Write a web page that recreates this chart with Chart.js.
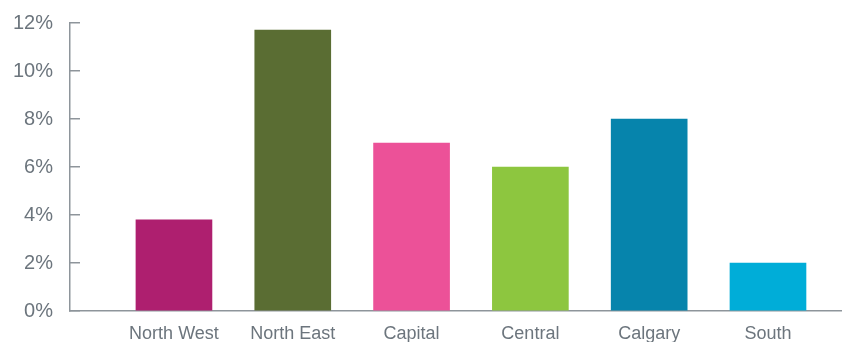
<!DOCTYPE html>
<html>
<head>
<meta charset="utf-8">
<script src="https://cdn.jsdelivr.net/npm/chart.js@4/dist/chart.umd.min.js"></script>
<style>
  html, body { margin: 0; padding: 0; background: #fff; }
  #wrap { width: 842px; height: 342px; position: relative; }
</style>
</head>
<body>
<div id="wrap"><canvas id="regionChart"></canvas></div>
<script>
  const categories = ['North West', 'North East', 'Capital', 'Central', 'Calgary', 'South'];
  const values = [3.8, 11.7, 7.0, 6.0, 8.0, 2.0];
  const barColors = ['#ae1f6f', '#5a6d33', '#ec5198', '#8dc63f', '#0684ac', '#00add8'];
  const yTicks = [0, 2, 4, 6, 8, 10, 12];

  const axisGrey = '#8e959b';
  const labelGrey = '#6c757d';

  const regionChart = new Chart(document.getElementById('regionChart'), {
    type: 'bar',
    data: {
      datasets: [{
        data: categories.map((c, i) => ({ x: i, y: values[i] })),
        backgroundColor: barColors,
        borderWidth: 0,
        barThickness: 76
      }]
    },
    options: {
      responsive: true,
      maintainAspectRatio: false,
      animation: false,
      layout: { padding: { top: 23, right: 0, bottom: 0, left: 0 } },
      plugins: {
        legend: { display: false },
        tooltip: { enabled: false }
      },
      scales: {
        x: {
          type: 'linear',
          offset: false,
          min: -0.875,
          max: 5.623,
          grid: { display: false, drawTicks: false },
          border: { display: true, color: axisGrey, width: 1.5 },
          afterBuildTicks: scale => {
            scale.ticks = categories.map((c, i) => ({ value: i }));
          },
          afterFit: scale => { scale.height = 31; },
          ticks: {
            autoSkip: false,
            maxRotation: 0,
            padding: 12,
            color: labelGrey,
            font: { family: 'Liberation Sans, Arial, sans-serif', size: 18 },
            callback: v => categories[v]
          }
        },
        y: {
          min: 0,
          max: 12,
          afterBuildTicks: scale => {
            scale.ticks = yTicks.map(v => ({ value: v }));
          },
          afterFit: scale => {
            scale.width = 70;
            scale.paddingTop = 0;
            scale.paddingBottom = 0;
          },
          grid: {
            drawOnChartArea: false,
            drawTicks: true,
            tickLength: -10,
            color: axisGrey,
            lineWidth: 1.5
          },
          border: { display: true, color: axisGrey, width: 1.5 },
          ticks: {
            padding: 27,
            color: labelGrey,
            font: { family: 'Liberation Sans, Arial, sans-serif', size: 20 },
            callback: v => v + '%'
          }
        }
      }
    }
  });
</script>
</body>
</html>
